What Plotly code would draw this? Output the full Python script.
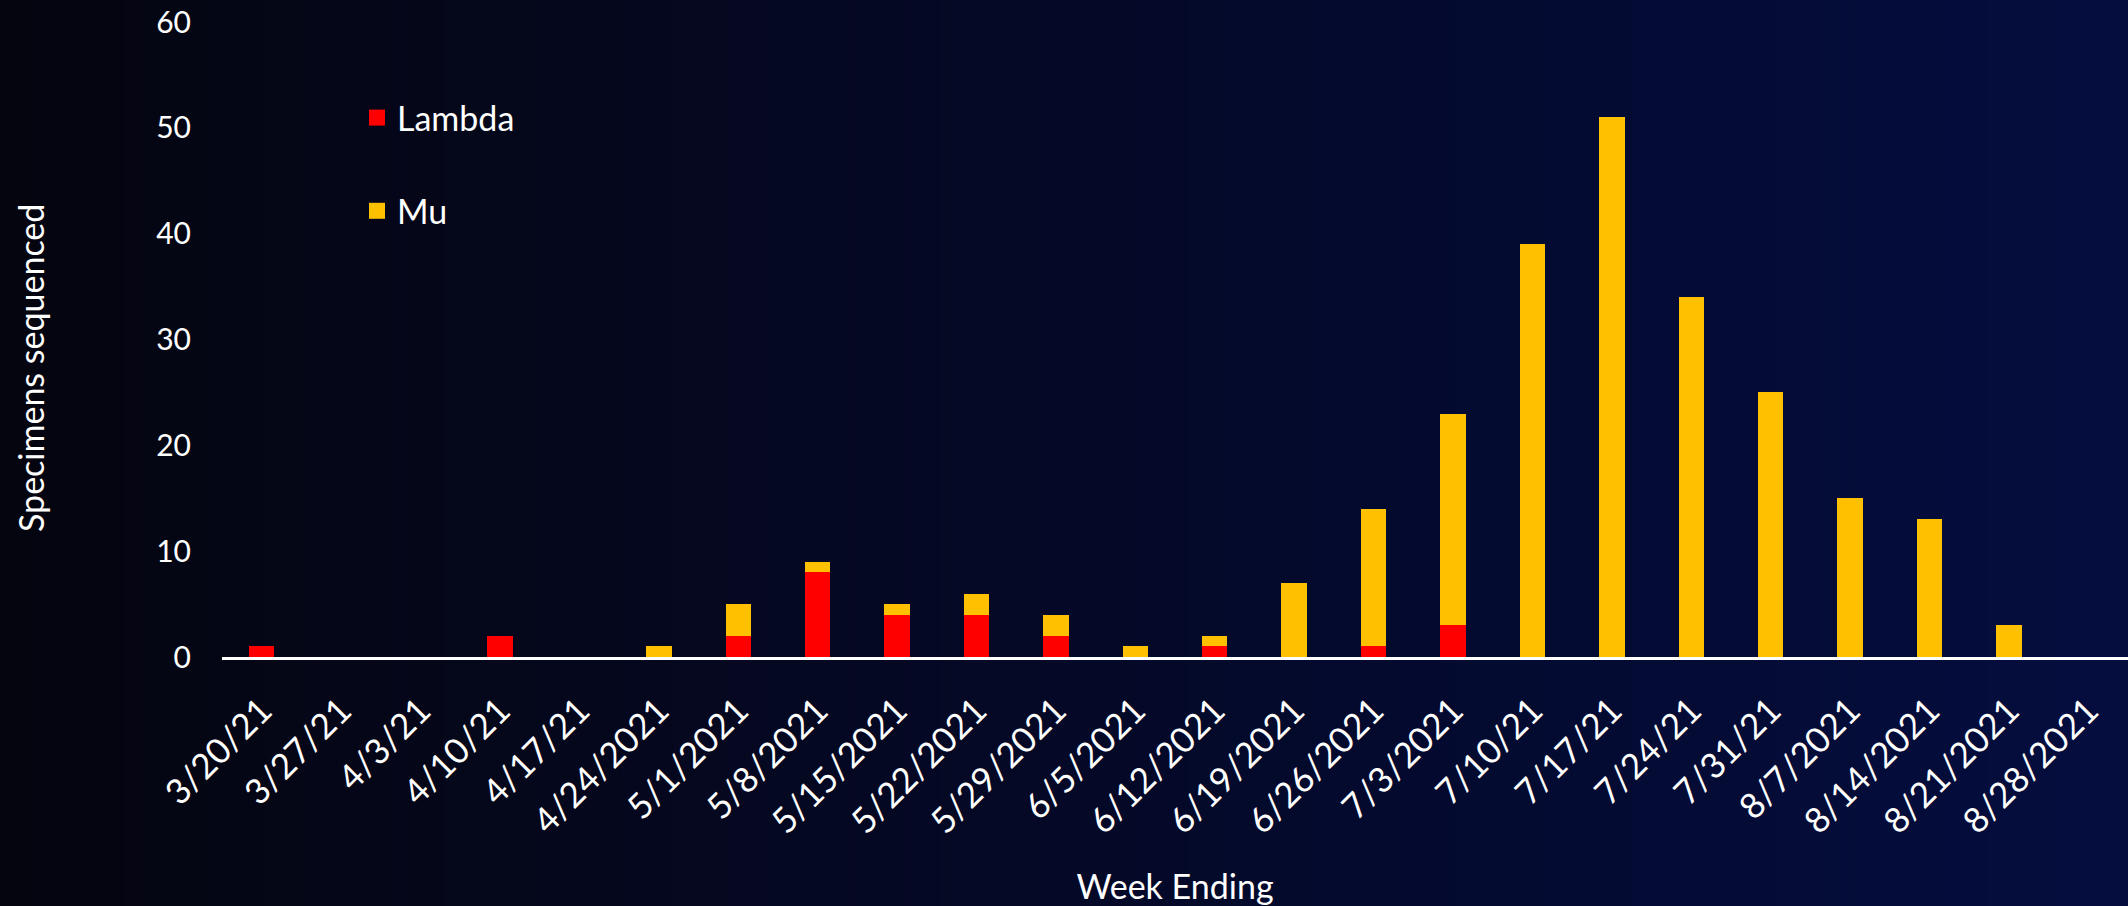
import plotly.graph_objects as go

weeks = ["3/20/21", "3/27/21", "4/3/21", "4/10/21", "4/17/21", "4/24/2021",
         "5/1/2021", "5/8/2021", "5/15/2021", "5/22/2021", "5/29/2021", "6/5/2021",
         "6/12/2021", "6/19/2021", "6/26/2021", "7/3/2021", "7/10/21", "7/17/21",
         "7/24/21", "7/31/21", "8/7/2021", "8/14/2021", "8/21/2021", "8/28/2021"]
lambda_counts = [1, 0, 0, 2, 0, 0, 2, 8, 4, 4, 2, 0, 1, 0, 1, 3, 0, 0, 0, 0, 0, 0, 0, 0]
mu_counts = [0, 0, 0, 0, 0, 1, 3, 1, 1, 2, 2, 1, 1, 7, 13, 20, 39, 51, 34, 25, 15, 13, 3, 0]
y_ticks = [0, 10, 20, 30, 40, 50, 60]

W, H = 2128, 906
ML, MR, MT, MB = 222, 0, 22, 249
PW = W - ML - MR
PH = H - MT - MB

FONT = "Lato, 'Open Sans', sans-serif"
RED = "#FF0000"
GOLD = "#FFC000"

fig = go.Figure()
fig.add_trace(go.Bar(x=weeks, y=lambda_counts, name="Lambda",
                     marker=dict(color=RED, line=dict(width=0)),
                     legendgroup="a", showlegend=False))
fig.add_trace(go.Bar(x=weeks, y=mu_counts, name="Mu",
                     marker=dict(color=GOLD, line=dict(width=0)),
                     legendgroup="b", showlegend=False))
# legend proxies (larger square swatches)
fig.add_trace(go.Scatter(x=[None], y=[None], mode="markers", name="Lambda",
                         marker=dict(symbol="square", size=19, color=RED),
                         legendgroup="a", showlegend=True, hoverinfo="skip"))
fig.add_trace(go.Scatter(x=[None], y=[None], mode="markers", name="Mu",
                         marker=dict(symbol="square", size=19, color=GOLD),
                         legendgroup="b", showlegend=True, hoverinfo="skip"))

# horizontal background gradient
shapes = []
N = 120
c0 = (5, 5, 16)
c1 = (4, 13, 62)
for i in range(N):
    t = i / (N - 1)
    col = tuple(round(c0[k] + (c1[k] - c0[k]) * t) for k in range(3))
    x0 = (i * W / N - ML) / PW
    x1 = ((i + 1) * W / N + 1 - ML) / PW
    shapes.append(dict(type="rect", xref="paper", yref="paper",
                       x0=x0, x1=x1, y0=-MB / PH - 0.01, y1=1 + MT / PH + 0.01,
                       fillcolor="rgb(%d,%d,%d)" % col, line=dict(width=0),
                       layer="below"))

fig.update_layout(
    width=W, height=H,
    margin=dict(l=ML, r=MR, t=MT, b=MB),
    paper_bgcolor="#05050f",
    plot_bgcolor="rgba(0,0,0,0)",
    barmode="stack",
    bargap=0.68,
    shapes=shapes,
    font=dict(family=FONT, color="white", size=34),
    showlegend=True,
    legend=dict(x=(377 - 20 - ML) / PW, xanchor="left",
                y=1 - (119 - MT - 30) / PH, yanchor="top",
                traceorder="grouped", tracegroupgap=46,
                itemsizing="trace",
                bgcolor="rgba(0,0,0,0)",
                font=dict(family=FONT, color="white", size=34)),
    xaxis=dict(
        type="category",
        tickangle=-45,
        showline=True, linecolor="white", linewidth=3,
        showgrid=False, zeroline=False,
        ticks="", ticklabelstandoff=16,
        tickfont=dict(family=FONT, color="white", size=35),
        title=dict(text="Week Ending", standoff=38,
                   font=dict(family=FONT, color="white", size=34)),
        automargin=False,
    ),
    yaxis=dict(
        range=[0, 60], tickvals=y_ticks,
        showline=False, showgrid=False, zeroline=False,
        ticks="", ticklabelstandoff=30,
        tickfont=dict(family=FONT, color="white", size=30),
        automargin=False,
    ),
    annotations=[dict(text="Specimens sequenced", textangle=-90,
                      xref="paper", yref="paper",
                      x=(30 - ML) / PW, y=1 - (368 - MT) / PH,
                      xanchor="center", yanchor="middle", showarrow=False,
                      font=dict(family=FONT, color="white", size=34))],
)

fig.write_html("out.html", config={"displayModeBar": False},
               post_script="document.body.style.margin='0';")
